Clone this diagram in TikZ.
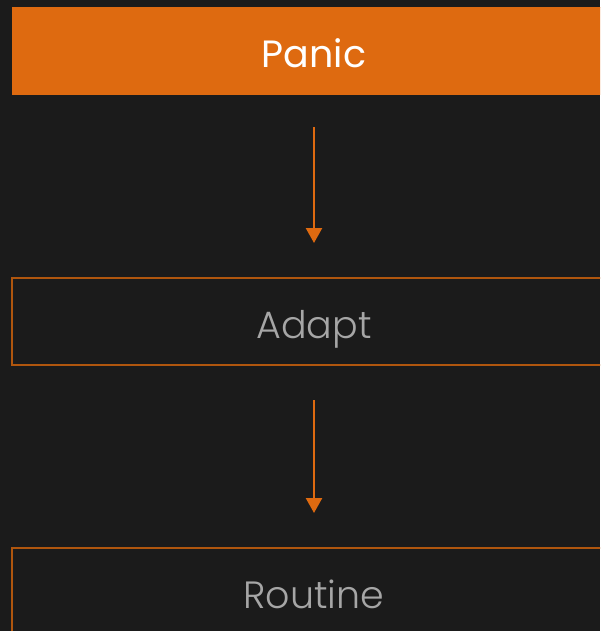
\documentclass[tikz,border=0pt]{standalone}
\usepackage{fontspec}
\setmainfont{Poppins}[UprightFont=* Light, BoldFont=* Regular]
\usetikzlibrary{arrows.meta}
\definecolor{bg}{HTML}{1B1B1B}
\definecolor{orng}{HTML}{DE6A10}
\definecolor{orngline}{HTML}{B0560E}
\definecolor{greytext}{HTML}{A6A6A6}
\tikzset{
  stagebox/.style={minimum width=604pt, minimum height=87pt, inner sep=0pt, anchor=north, text height=40pt, text depth=6pt, font=\fontsize{38pt}{40pt}\selectfont},
  hot/.style={stagebox, fill=orng, draw=orng, text=white},
  cold/.style={stagebox, draw=orngline, line width=2.4pt, text=greytext},
  flow/.style={draw=orng, line width=2.4pt, -{Triangle[width=16pt,length=15pt]}}
}
\begin{document}
\begin{tikzpicture}[x=1pt,y=-1pt]
\fill[bg] (0,0) rectangle (600,631);
\useasboundingbox (0,0) rectangle (600,631);
\clip (0,0) rectangle (600,631);
\node[hot] (panic) at (314,7) {\bfseries Panic};
\node[cold] (adapt) at (314,277) {Adapt};
\node[cold] (routine) at (314,547) {Routine};
\draw[flow, shorten <=33pt, shorten >=34pt] (panic.south) -- (adapt.north);
\draw[flow, shorten <=34pt, shorten >=34pt] (adapt.south) -- (routine.north);
\end{tikzpicture}
\end{document}
